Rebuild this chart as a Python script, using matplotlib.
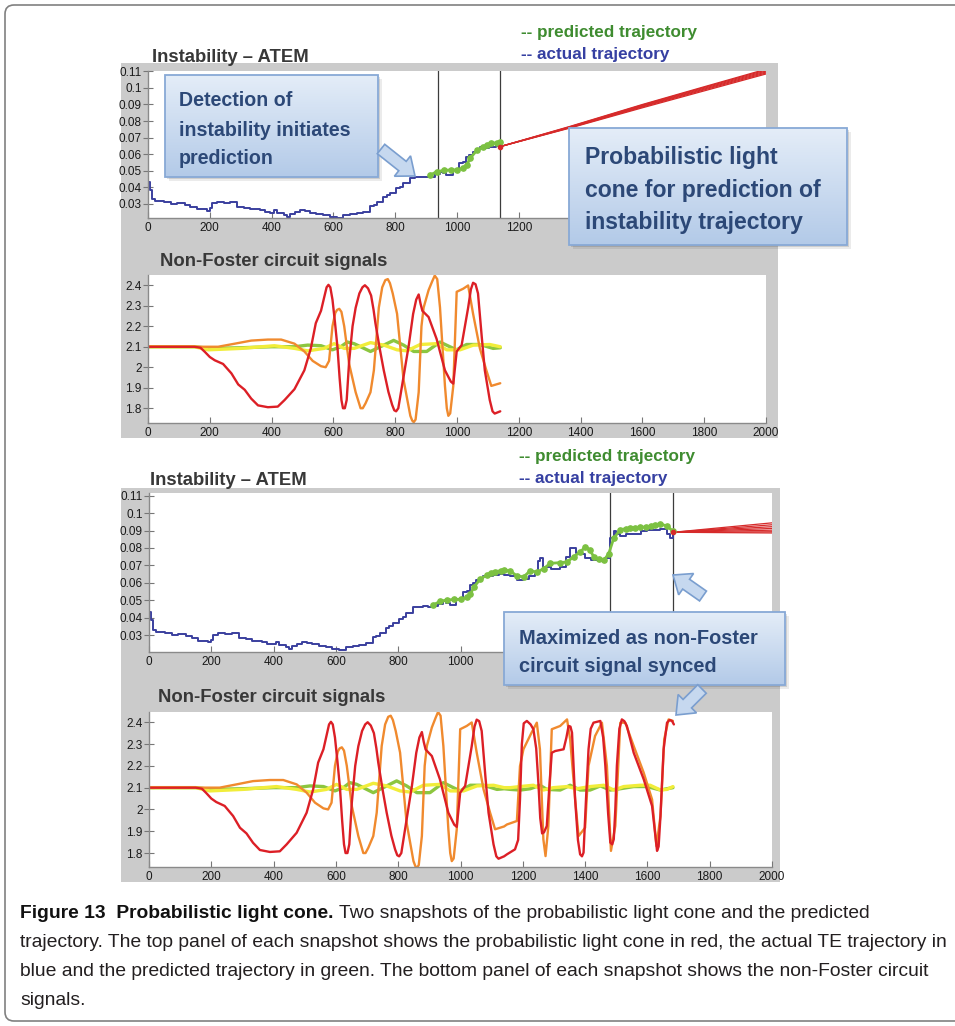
import numpy as np
import matplotlib
matplotlib.use("Agg")
import matplotlib.pyplot as plt
from matplotlib.patches import Rectangle, FancyBboxPatch, FancyArrow
from matplotlib.ticker import FormatStrFormatter
from matplotlib.colors import to_rgb

plt.rcParams['font.family'] = ['Liberation Sans', 'DejaVu Sans']

W, H = 955, 1026

# actual instability (ATEM) trajectory
atem_x = [0, 7, 13, 24, 51, 75, 94, 120, 137, 158, 191, 200, 207, 223, 245, 266, 288, 310, 331, 363,
          380, 396, 407, 418, 439, 450, 460, 476, 492, 508, 524, 545, 567, 589, 611, 632, 655, 675, 697, 718,
          730, 740, 761, 772, 783, 804, 815, 826, 847, 863, 879, 895, 912, 928, 944, 955, 966, 987, 1000, 1008,
          1020, 1030, 1040, 1051, 1062, 1073, 1090, 1105, 1125, 1140, 1160, 1181, 1200, 1220, 1240, 1250, 1256, 1265, 1290, 1320,
          1340, 1353, 1370, 1385, 1400, 1420, 1450, 1465, 1481, 1492, 1500, 1513, 1530, 1556, 1580, 1600, 1620, 1642, 1663, 1674,
          1683]
atem_y = [0.0435, 0.0385, 0.0328, 0.0320, 0.0314, 0.0300, 0.0308, 0.0296, 0.0284, 0.0268, 0.0260, 0.0275, 0.0304, 0.0314, 0.0306, 0.0314, 0.0284, 0.0276, 0.0268, 0.0264,
          0.0252, 0.0248, 0.0264, 0.0243, 0.0233, 0.0222, 0.0240, 0.0252, 0.0264, 0.0256, 0.0248, 0.0240, 0.0231, 0.0219, 0.0217, 0.0233, 0.0238, 0.0243, 0.0253, 0.0288,
          0.0296, 0.0314, 0.0340, 0.0352, 0.0368, 0.0394, 0.0405, 0.0425, 0.0459, 0.0462, 0.0465, 0.0462, 0.0465, 0.0478, 0.0495, 0.0484, 0.0475, 0.0505, 0.0508, 0.0546,
          0.0552, 0.0586, 0.0598, 0.0616, 0.0630, 0.0642, 0.0638, 0.0646, 0.0650, 0.0646, 0.0640, 0.0615, 0.0622, 0.0640, 0.0650, 0.0725, 0.0740, 0.0690, 0.0680, 0.0690,
          0.0750, 0.0800, 0.0770, 0.0765, 0.0740, 0.0730, 0.0725, 0.0740, 0.0855, 0.0900, 0.0880, 0.0870, 0.0880, 0.0880, 0.0895, 0.0905, 0.0905, 0.0910, 0.0880, 0.0860,
          0.0890]

# predicted trajectory
pred_x = [913, 935, 957, 980, 1000, 1021, 1032, 1043, 1064, 1085, 1097, 1110, 1129, 1140, 1160, 1181, 1203, 1224, 1245, 1267,
          1288, 1320, 1342, 1363, 1385, 1401, 1415, 1428, 1445, 1460, 1476, 1492, 1513, 1530, 1545, 1560, 1577, 1595, 1610, 1625,
          1642, 1663, 1683]
pred_y = [0.0474, 0.0495, 0.0502, 0.0505, 0.0505, 0.0518, 0.0537, 0.0576, 0.0623, 0.0645, 0.0658, 0.0665, 0.0669, 0.0674, 0.0668, 0.0640, 0.0635, 0.0670, 0.0662, 0.0681,
          0.0712, 0.0716, 0.0720, 0.0749, 0.0778, 0.0807, 0.0790, 0.0749, 0.0735, 0.0729, 0.0768, 0.0856, 0.0905, 0.0910, 0.0915, 0.0916, 0.0919, 0.0920, 0.0925, 0.0930,
          0.0938, 0.0925, 0.0895]

# probabilistic light cone, first snapshot
cone1_x = [1140, 1366, 1600, 1800, 2000]
cone1_y = [[0.0646, 0.0758, 0.0880, 0.0982, 0.1084],
           [0.0646, 0.0760, 0.0885, 0.0988, 0.1090],
           [0.0646, 0.0762, 0.0889, 0.0993, 0.1096],
           [0.0646, 0.0764, 0.0893, 0.0998, 0.1102],
           [0.0646, 0.0766, 0.0897, 0.1003, 0.1108],
           [0.0646, 0.0768, 0.0900, 0.1007, 0.1113]]
# probabilistic light cone, second snapshot
cone2_x = [1683, 1840, 2000]
cone2_y = [[0.0890, 0.0888, 0.0886],
           [0.0890, 0.0891, 0.0893],
           [0.0890, 0.0896, 0.0902],
           [0.0890, 0.0901, 0.0912],
           [0.0890, 0.0906, 0.0922],
           [0.0890, 0.0911, 0.0933],
           [0.0890, 0.0917, 0.0944]]

window1 = [940, 1140]
window2 = [1480, 1682]
t_stop = [1140, 1685]

# non-Foster circuit signals
red_x = [0, 150, 170, 184, 200, 216, 243, 270, 292, 313, 334, 356, 388, 420, 442, 474, 506, 527, 543, 560,
         570, 578, 584, 590, 597, 605, 613, 620, 626, 631, 637, 643, 651, 662, 672, 684, 694, 702, 712, 722,
         730, 736, 750, 763, 778, 790, 797, 803, 810, 817, 844, 858, 868, 876, 882, 888, 908, 934, 961, 980,
         988, 999, 1015, 1036, 1045, 1052, 1060, 1068, 1080, 1090, 1106, 1115, 1122, 1140, 1149, 1175, 1185, 1191, 1197, 1203,
         1213, 1225, 1234, 1243, 1250, 1256, 1262, 1268, 1277, 1285, 1293, 1304, 1331, 1340, 1347, 1353, 1358, 1368, 1377, 1384,
         1390, 1395, 1403, 1411, 1418, 1427, 1449, 1458, 1465, 1474, 1481, 1487, 1492, 1497, 1502, 1510, 1518, 1526, 1534, 1556,
         1588, 1615, 1624, 1631, 1636, 1642, 1652, 1663, 1671, 1679, 1685]
red_y = [2.1, 2.1, 2.095, 2.075, 2.05, 2.034, 2.016, 1.97, 1.916, 1.89, 1.847, 1.814, 1.805, 1.808, 1.84, 1.893, 1.985, 2.092, 2.215, 2.276,
         2.34, 2.39, 2.402, 2.39, 2.33, 2.22, 2.1, 1.95, 1.84, 1.80, 1.80, 1.84, 2.03, 2.2, 2.29, 2.36, 2.39, 2.40, 2.385, 2.35,
         2.28, 2.215, 2.09, 1.985, 1.88, 1.817, 1.79, 1.785, 1.80, 1.863, 2.108, 2.26, 2.33, 2.355, 2.31, 2.275, 2.245, 2.138, 1.985, 1.93,
         1.92, 2.077, 2.108, 2.29, 2.38, 2.412, 2.405, 2.36, 2.15, 1.985, 1.84, 1.785, 1.774, 1.785, 1.794, 1.817, 1.86, 2.046, 2.3, 2.395,
         2.406, 2.39, 2.368, 2.28, 2.123, 1.96, 1.89, 1.895, 1.924, 2.1, 2.26, 2.268, 2.276, 2.33, 2.383, 2.38, 2.352, 2.046, 1.86, 1.794,
         1.785, 1.802, 2.05, 2.276, 2.37, 2.398, 2.406, 2.33, 2.2, 1.98, 1.848, 1.84, 1.863, 2.0, 2.2, 2.37, 2.413, 2.405, 2.383, 2.26,
         2.139, 2.016, 1.9, 1.81, 1.83, 1.97, 2.276, 2.398, 2.41, 2.406, 2.39]
orange_x = [0, 227, 281, 334, 388, 431, 474, 506, 533, 560, 575, 586, 597, 606, 612, 619, 626, 635, 651, 672,
            688, 695, 704, 720, 731, 747, 758, 768, 776, 783, 792, 806, 827, 849, 855, 860, 866, 876, 885, 892,
            908, 920, 928, 936, 945, 961, 967, 972, 978, 988, 999, 1020, 1036, 1052, 1074, 1095, 1111, 1140, 1149, 1181,
            1191, 1202, 1228, 1245, 1255, 1266, 1273, 1282, 1293, 1320, 1342, 1352, 1368, 1379, 1400, 1411, 1432, 1454, 1470, 1483,
            1497, 1513, 1529, 1556, 1588, 1615, 1629, 1642, 1654, 1668, 1682]
orange_y = [2.1, 2.1, 2.115, 2.13, 2.135, 2.135, 2.115, 2.077, 2.031, 2.005, 2.0, 2.031, 2.2, 2.265, 2.28, 2.285, 2.27, 2.2, 2.016, 1.878,
            1.80, 1.80, 1.824, 1.878, 1.985, 2.291, 2.39, 2.425, 2.43, 2.41, 2.36, 2.261, 1.939, 1.763, 1.74, 1.732, 1.745, 1.878, 2.2, 2.291,
            2.376, 2.42, 2.447, 2.43, 2.291, 1.909, 1.80, 1.763, 1.775, 1.909, 2.368, 2.383, 2.399, 2.261, 2.092, 1.985, 1.909, 1.922, 1.931, 1.947,
            2.199, 2.276, 2.352, 2.398, 2.276, 1.863, 1.786, 1.924, 2.368, 2.383, 2.413, 2.322, 2.046, 1.878, 1.916, 2.2, 2.337, 2.398, 2.2, 1.81,
            1.924, 2.398, 2.398, 2.291, 2.169, 2.046, 1.832, 1.97, 2.322, 2.413, 2.406]
green_x = [0, 150, 200, 300, 400, 474, 517, 560, 597, 624, 645, 667, 720, 752, 795, 827, 860, 902, 945, 977,
           999, 1031, 1074, 1117, 1140, 1160, 1192, 1224, 1255, 1277, 1320, 1352, 1384, 1416, 1449, 1481, 1513, 1556, 1599, 1642,
           1663, 1682]
green_y = [2.1, 2.1, 2.092, 2.095, 2.1, 2.1, 2.108, 2.105, 2.085, 2.1, 2.123, 2.115, 2.077, 2.1, 2.131, 2.108, 2.077, 2.077, 2.123, 2.1,
           2.085, 2.111, 2.111, 2.092, 2.095, 2.092, 2.089, 2.095, 2.111, 2.092, 2.089, 2.111, 2.089, 2.089, 2.108, 2.089, 2.095, 2.105, 2.105, 2.089,
           2.095, 2.1]
yellow_x = [0, 150, 195, 302, 409, 474, 517, 570, 602, 635, 667, 720, 763, 806, 838, 881, 934, 967, 1010, 1053,
            1106, 1140, 1160, 1191, 1234, 1266, 1298, 1342, 1373, 1416, 1460, 1492, 1524, 1577, 1609, 1642, 1663, 1682]
yellow_y = [2.1, 2.1, 2.085, 2.092, 2.105, 2.092, 2.08, 2.092, 2.115, 2.092, 2.092, 2.12, 2.108, 2.085, 2.08, 2.111, 2.115, 2.085, 2.085, 2.108,
            2.111, 2.1, 2.1, 2.105, 2.111, 2.089, 2.1, 2.105, 2.095, 2.105, 2.111, 2.089, 2.105, 2.111, 2.111, 2.089, 2.092, 2.105]

x_ticks = [0, 200, 400, 600, 800, 1000, 1200, 1400, 1600, 1800, 2000]
atem_ticks = [0.03, 0.04, 0.05, 0.06, 0.07, 0.08, 0.09, 0.1, 0.11]
sig_ticks = [1.8, 1.9, 2.0, 2.1, 2.2, 2.3, 2.4]

caption = ["trajectory. The top panel of each snapshot shows the probabilistic light cone in red, the actual TE trajectory in",
           "blue and the predicted trajectory in green. The bottom panel of each snapshot shows the non-Foster circuit",
           "signals."]

GRAY = '#cbcbcb'
BLUE = '#3a3f9e'
GREEN = '#7cc142'
RED = '#d62a2a'
NAVY = '#2c4877'
TITLE = '#383838'

fig = plt.figure(figsize=(W / 100, H / 100), dpi=100)

# background: frame and grey panels, in pixel units
bg = fig.add_axes([0, 0, 1, 1], zorder=-10)
bg.set_xlim(0, W)
bg.set_ylim(H, 0)
bg.axis('off')
bg.add_patch(FancyBboxPatch((5, 5), 1000, 1016, boxstyle='round,pad=0,rounding_size=9',
                            fc='white', ec='#808080', lw=1.2))
bg.add_patch(Rectangle((121, 63), 657, 375, fc=GRAY, ec='none'))
bg.add_patch(Rectangle((121, 488), 659, 394, fc=GRAY, ec='none'))


def panel(x0, y0, x1, y1, ylim, yticks, last_label=2000):
    ax = fig.add_axes([x0 / W, 1 - y1 / H, (x1 - x0) / W, (y1 - y0) / H])
    ax.set_facecolor('white')
    ax.set_xlim(0, 2000)
    ax.set_ylim(*ylim)
    ax.set_xticks(x_ticks)
    # labels that sit under a callout box are left blank
    ax.set_xticklabels([str(t) if t <= last_label else '' for t in x_ticks])
    ax.set_yticks(yticks)
    ax.yaxis.set_major_formatter(FormatStrFormatter('%g'))
    for s in ('top', 'right'):
        ax.spines[s].set_visible(False)
    for s in ('left', 'bottom'):
        ax.spines[s].set_color('#8a8a8a')
        ax.spines[s].set_linewidth(1.0)
    ax.tick_params(axis='x', direction='in', length=4, width=0.8, color='#777777',
                   labelsize=8.5, labelcolor='#1a1a1a', pad=3)
    ax.tick_params(axis='y', direction='inout', length=7, width=0.8, color='#777777',
                   labelsize=8.5, labelcolor='#1a1a1a', pad=1)
    return ax


def draw_atem(ax, stop, window, cone_x, cone_ys):
    for xv in window:
        ax.axvline(xv, color='#3c3c3c', lw=0.9)
    for cy in cone_ys:
        ax.plot(cone_x, cy, color=RED, lw=0.9)
    xs = np.array(atem_x)
    ys = np.array(atem_y)
    m = xs <= stop
    ax.plot(xs[m], ys[m], drawstyle='steps-post', color=BLUE, lw=1.4)
    px = np.array(pred_x)
    py = np.array(pred_y)
    m = px <= stop
    ax.plot(px[m], py[m], color=GREEN, lw=2, marker='o', ms=3.8, mec=GREEN)
    ax.plot([cone_x[0]], [cone_ys[0][0]], 'o', color=RED, ms=3)


def draw_signals(ax, stop):
    series = [(green_x, green_y, '#8cc63f', 2.4),
              (yellow_x, yellow_y, '#f1ed3a', 2.4),
              (orange_x, orange_y, '#f08a2e', 1.7),
              (red_x, red_y, '#dc1f26', 1.7)]
    for xs, ys, c, lw in series:
        xs = np.array(xs)
        ys = np.array(ys)
        m = xs <= stop
        ax.plot(xs[m], ys[m], color=c, lw=lw, solid_joinstyle='round', solid_capstyle='round')


ax1 = panel(148, 71, 766, 218, (0.0215, 0.1102), atem_ticks, last_label=1200)
draw_atem(ax1, t_stop[0], window1, cone1_x, cone1_y)
ax2 = panel(148, 275, 766, 423, (1.728, 2.45), sig_ticks)
draw_signals(ax2, t_stop[0])
ax3 = panel(149, 493, 772, 652, (0.0204, 0.1115), atem_ticks, last_label=1000)
draw_atem(ax3, t_stop[1], window2, cone2_x, cone2_y)
ax4 = panel(149, 712, 772, 867, (1.736, 2.447), sig_ticks)
draw_signals(ax4, t_stop[1])

# panel titles and trajectory key
for x, y, s in [(152, 61.5, 'Instability \u2013 ATEM'), (160, 266, 'Non-Foster circuit signals'),
                (150, 485, 'Instability \u2013 ATEM'), (158, 701.5, 'Non-Foster circuit signals')]:
    bg.text(x, y, s, fontsize=13.3, fontweight='bold', color=TITLE, va='baseline')
for x, y in [(521, 37), (519, 461.5)]:
    bg.text(x, y, '-- predicted trajectory', fontsize=12.3, fontweight='bold', color='#3f8c30', va='baseline')
    bg.text(x, y + 22, '-- actual trajectory', fontsize=12.3, fontweight='bold', color='#3640a2', va='baseline')

# callouts on top of everything
ov = fig.add_axes([0, 0, 1, 1], zorder=10)
ov.patch.set_visible(False)
ov.axis('off')
ov.set_xlim(0, W)
ov.set_ylim(H, 0)
ov.set_autoscale_on(False)

top_c = np.array(to_rgb('#e4edf8'))
bot_c = np.array(to_rgb('#b3cae8'))
shade = np.linspace(0, 1, 64)[:, None, None]
box_img = top_c + (bot_c - top_c) * shade


def callout(x0, y0, x1, y1, lines, tx, baselines, size):
    for off, a in ((4, 0.08), (2, 0.12)):
        ov.add_patch(Rectangle((x0 + off, y0 + off), x1 - x0, y1 - y0, fc='black', alpha=a, ec='none', zorder=1))
    ov.imshow(box_img, extent=(x0, x1, y1, y0), aspect='auto', origin='upper', zorder=2)
    ov.add_patch(Rectangle((x0, y0), x1 - x0, y1 - y0, fill=False, ec='#88a9d6', lw=1.3, zorder=3))
    for s, b in zip(lines, baselines):
        ov.text(tx, b, s, fontsize=size, fontweight='bold', color=NAVY, va='baseline', zorder=4)


def block_arrow(x0, y0, x1, y1):
    ov.add_patch(FancyArrow(x0, y0, x1 - x0, y1 - y0, width=12, head_width=26, head_length=16,
                            length_includes_head=True, fc='#c6d8ef', ec='#7a9ecf', lw=1.2, zorder=5))


callout(165, 75, 378, 177, ['Detection of', 'instability initiates', 'prediction'], 179, [106.5, 135.5, 163.5], 14.1)
callout(569, 128, 847, 245, ['Probabilistic light', 'cone for prediction of', 'instability trajectory'],
        585, [164, 197, 229], 16.6)
callout(504, 612, 785, 685, ['Maximized as non-Foster', 'circuit signal synced'], 519, [643.5, 671.5], 14.4)
block_arrow(381, 149, 415, 176)
block_arrow(703, 596, 673, 575)
block_arrow(702, 689, 676, 715)
ov.set_xlim(0, W)
ov.set_ylim(H, 0)

# caption, sized so the long line fills the text width
cap_font = ['Liberation Sans Narrow', 'Liberation Sans']
renderer = fig.canvas.get_renderer()
probe = bg.text(20, 947, caption[0], fontsize=12, family=cap_font, color='#231f20', va='baseline')
cap_size = 12 * 930 / probe.get_window_extent(renderer).width
probe.set_fontsize(cap_size)
bold = bg.text(20, 918, 'Figure 13  Probabilistic light cone.', fontsize=cap_size, family=cap_font,
               fontweight='bold', color='#111111', va='baseline')
bw = bold.get_window_extent(renderer).width
bg.text(20 + bw, 918, ' Two snapshots of the probabilistic light cone and the predicted', fontsize=cap_size,
        family=cap_font, color='#231f20', va='baseline')
bg.text(20, 976, caption[1], fontsize=cap_size, family=cap_font, color='#231f20', va='baseline')
bg.text(20, 1005, caption[2], fontsize=cap_size, family=cap_font, color='#231f20', va='baseline')

fig.savefig('out.png', dpi=100)
